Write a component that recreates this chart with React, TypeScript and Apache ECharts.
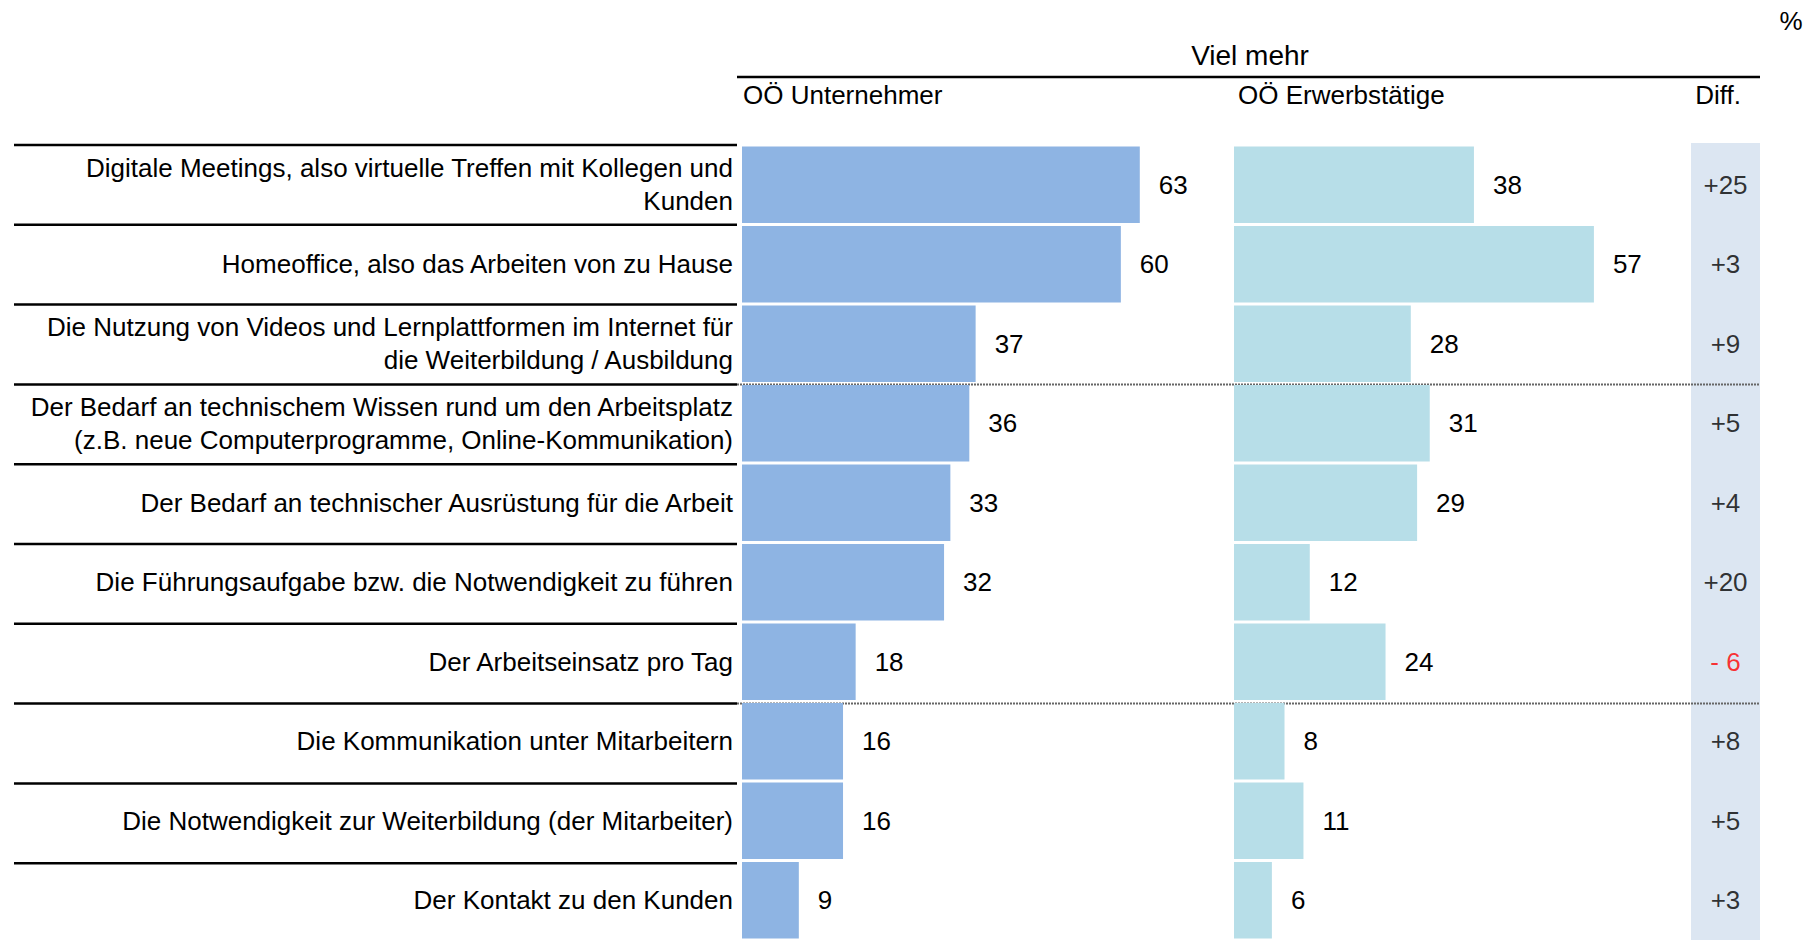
import React, { useEffect, useRef } from "react";
import * as echarts from "echarts";

const categories = [
  "Digitale Meetings, also virtuelle Treffen mit Kollegen und\nKunden",
  "Homeoffice, also das Arbeiten von zu Hause",
  "Die Nutzung von Videos und Lernplattformen im Internet für\ndie Weiterbildung / Ausbildung",
  "Der Bedarf an technischem Wissen rund um den Arbeitsplatz\n(z.B. neue Computerprogramme, Online-Kommunikation)",
  "Der Bedarf an technischer Ausrüstung für die Arbeit",
  "Die Führungsaufgabe bzw. die Notwendigkeit zu führen",
  "Der Arbeitseinsatz pro Tag",
  "Die Kommunikation unter Mitarbeitern",
  "Die Notwendigkeit zur Weiterbildung (der Mitarbeiter)",
  "Der Kontakt zu den Kunden",
];
const unternehmer = [63, 60, 37, 36, 33, 32, 18, 16, 16, 9];
const erwerbstaetige = [38, 57, 28, 31, 29, 12, 24, 8, 11, 6];
const diffs = [25, 3, 9, 5, 4, 20, -6, 8, 5, 3];

const FONT = "'Liberation Sans', Arial, sans-serif";
const TOP = 145;
const ROW = 79.8;
const FS = 26;

export default function App() {
  const ref = useRef<HTMLDivElement>(null);
  useEffect(() => {
    if (!ref.current) return;
    const chart = echarts.init(ref.current, null, { renderer: "svg" });
    const gridH = ROW * categories.length;
    const bottom = 940 - TOP - gridH;

    const graphics: any[] = [];
    graphics.push({ type: "rect", z: 0, shape: { x: 1691, y: 143, width: 69, height: 800 }, style: { fill: "#dce6f2" } });
    for (let i = 0; i < categories.length; i++) {
      const y = TOP + i * ROW;
      graphics.push({ type: "line", z: 1, shape: { x1: 14, y1: y, x2: 737, y2: y }, style: { stroke: "#000", lineWidth: 2.5 } });
    }
    [3, 7].forEach((i) => {
      const y = TOP + i * ROW;
      graphics.push({ type: "line", z: 1, shape: { x1: 737, y1: y, x2: 1760, y2: y }, style: { stroke: "#666", lineWidth: 2, lineDash: [2, 1] } });
    });
    graphics.push({ type: "text", z: 3, x: 1250, y: 55, style: { text: "Viel mehr", fontSize: 28, fontFamily: FONT, fill: "#000", align: "center", verticalAlign: "middle" } });
    graphics.push({ type: "line", z: 3, shape: { x1: 737, y1: 77, x2: 1760, y2: 77 }, style: { stroke: "#000", lineWidth: 2.5 } });
    graphics.push({ type: "text", z: 3, x: 743, y: 95, style: { text: "OÖ Unternehmer", fontSize: FS, fontFamily: FONT, fill: "#000", align: "left", verticalAlign: "middle" } });
    graphics.push({ type: "text", z: 3, x: 1238, y: 95, style: { text: "OÖ Erwerbstätige", fontSize: FS, fontFamily: FONT, fill: "#000", align: "left", verticalAlign: "middle" } });
    graphics.push({ type: "text", z: 3, x: 1718, y: 95, style: { text: "Diff.", fontSize: FS, fontFamily: FONT, fill: "#000", align: "center", verticalAlign: "middle" } });
    graphics.push({ type: "text", z: 3, x: 1791, y: 21, style: { text: "%", fontSize: FS, fontFamily: FONT, fill: "#000", align: "center", verticalAlign: "middle" } });

    const catAxis = (gridIndex: number, showLabel: boolean) => ({
      type: "category",
      gridIndex,
      data: categories,
      inverse: true,
      axisLine: { show: false },
      axisTick: { show: false },
      splitLine: { show: false },
      axisLabel: showLabel
        ? { show: true, fontSize: FS, fontFamily: FONT, color: "#000", margin: 9, lineHeight: 33, align: "right" }
        : { show: false },
    });
    const valAxis = (gridIndex: number, min: number, max: number) => ({
      type: "value",
      gridIndex,
      min,
      max,
      show: false,
      splitLine: { show: false },
    });
    const barLabel = { show: true, position: "right", distance: 19, fontSize: FS, fontFamily: FONT, color: "#000" };

    chart.setOption({
      animation: false,
      backgroundColor: "#fff",
      graphic: graphics,
      grid: [
        { left: 742, top: TOP, width: 442, bottom },
        { left: 1234, top: TOP, width: 442, bottom },
        { left: 1691, top: TOP, width: 69, bottom },
      ],
      xAxis: [valAxis(0, 0, 70), valAxis(1, 0, 70), valAxis(2, -1, 1)],
      yAxis: [catAxis(0, true), catAxis(1, false), catAxis(2, false)],
      series: [
        {
          type: "bar",
          name: "OÖ Unternehmer",
          xAxisIndex: 0,
          yAxisIndex: 0,
          data: unternehmer,
          barCategoryGap: "4%",
          itemStyle: { color: "#8eb4e3" },
          label: barLabel,
          z: 2,
        },
        {
          type: "bar",
          name: "OÖ Erwerbstätige",
          xAxisIndex: 1,
          yAxisIndex: 1,
          data: erwerbstaetige,
          barCategoryGap: "4%",
          itemStyle: { color: "#b7dee8" },
          label: barLabel,
          z: 2,
        },
        {
          type: "scatter",
          name: "Diff.",
          xAxisIndex: 2,
          yAxisIndex: 2,
          symbolSize: 0,
          data: diffs.map((d, i) => ({
            value: [0, i],
            label: { color: d < 0 ? "#ff0000" : "#000" },
          })),
          label: {
            show: true,
            position: "inside",
            fontSize: FS,
            fontFamily: FONT,
            formatter: (p: any) => {
              const d = diffs[p.dataIndex];
              return d < 0 ? "- " + Math.abs(d) : "+" + d;
            },
          },
          z: 5,
        },
      ],
    });
    return () => chart.dispose();
  }, []);
  return <div ref={ref} style={{ position: "fixed", left: 0, top: 0, width: 1806, height: 940 }} />;
}
